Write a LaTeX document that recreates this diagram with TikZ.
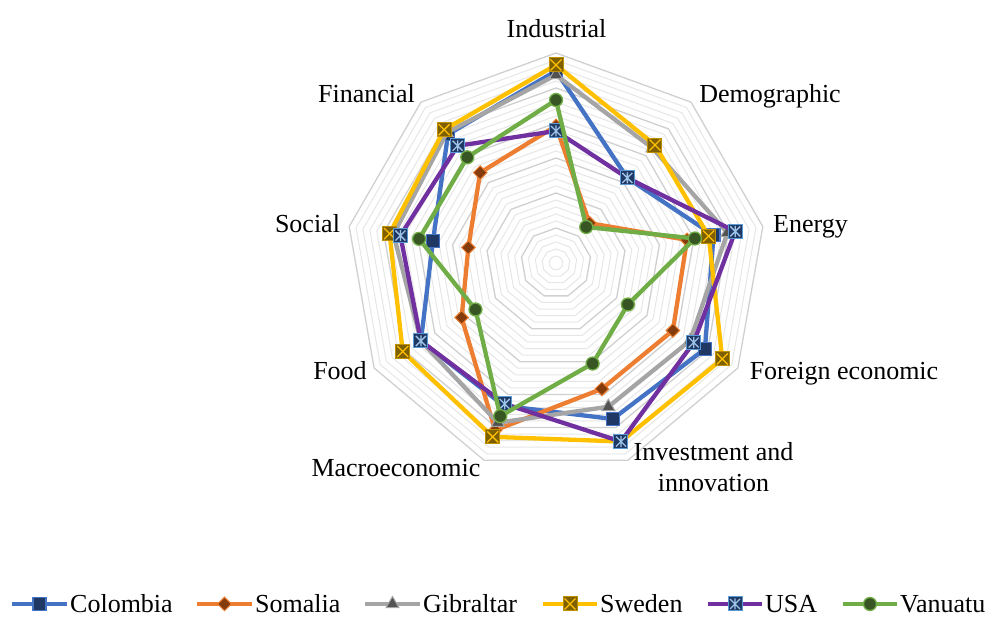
\documentclass[tikz,border=0pt]{standalone}
\usepackage{fontspec}
\setmainfont{Liberation Serif}
\usetikzlibrary{shapes.geometric,calc}
\definecolor{cBlue}{HTML}{4472C4}
\definecolor{cNavy}{HTML}{203864}
\definecolor{cOrange}{HTML}{ED7D31}
\definecolor{cBrown}{HTML}{843C0C}
\definecolor{cGray}{HTML}{A5A5A5}
\definecolor{cDGray}{HTML}{525252}
\definecolor{cGold}{HTML}{FFC000}
\definecolor{cDGold}{HTML}{7F6000}
\definecolor{cPurple}{HTML}{7030A0}
\definecolor{cLBlue}{HTML}{5B9BD5}
\definecolor{cStar}{HTML}{9DC3E6}
\definecolor{cGreen}{HTML}{70AD47}
\definecolor{cDGreen}{HTML}{375623}
\definecolor{gMinor}{HTML}{E6E6E6}
\definecolor{gMajor}{HTML}{D0D0D0}
\tikzset{
  gridminor/.style={draw=gMinor, line width=1pt},
  gridmajor/.style={draw=gMajor, line width=1.3pt},
  serline/.style={line width=4.3pt, line join=round},
  lnCol/.style={serline, draw=cBlue},
  lnSom/.style={serline, draw=cOrange},
  lnGib/.style={serline, draw=cGray},
  lnSwe/.style={serline, draw=cGold},
  lnUSA/.style={serline, draw=cPurple},
  lnVan/.style={serline, draw=cGreen},
  mkCol/.style={rectangle, minimum size=13pt, inner sep=0pt, fill=cNavy, draw=cBlue, line width=1.2pt},
  mkSom/.style={diamond, minimum size=14pt, inner sep=0pt, fill=cBrown, draw=cOrange, line width=1pt},
  mkGib/.style={regular polygon, regular polygon sides=3, minimum size=15pt, inner sep=0pt, fill=cDGray, draw=cGray, line width=1pt},
  mkSwe/.style={rectangle, minimum size=14pt, inner sep=0pt, fill=cDGold, draw=cGold!75!black, line width=1pt,
    path picture={\draw[cGold, line width=1.3pt]
      ([shift={(1.5pt,-1.5pt)}]path picture bounding box.north west) -- ([shift={(-1.5pt,1.5pt)}]path picture bounding box.south east)
      ([shift={(-1.5pt,-1.5pt)}]path picture bounding box.north east) -- ([shift={(1.5pt,1.5pt)}]path picture bounding box.south west);}},
  mkUSA/.style={rectangle, minimum size=14pt, inner sep=0pt, fill=cNavy, draw=cLBlue, line width=1pt,
    path picture={\draw[cStar, line width=1.3pt]
      ([shift={(2pt,-2pt)}]path picture bounding box.north west) -- ([shift={(-2pt,2pt)}]path picture bounding box.south east)
      ([shift={(-2pt,-2pt)}]path picture bounding box.north east) -- ([shift={(2pt,2pt)}]path picture bounding box.south west)
      ([shift={(0pt,-1.5pt)}]path picture bounding box.north) -- ([shift={(0pt,1.5pt)}]path picture bounding box.south);}},
  mkVan/.style={circle, minimum size=13pt, inner sep=0pt, fill=cDGreen, draw=cGreen, line width=1.3pt},
  axlabel/.style={inner sep=0pt, anchor=base, text=black},
  lgtext/.style={inner sep=0pt, anchor=base west, text=black}
}
\newcommand{\drawSeries}[4]{%
  \foreach \v [count=\i] in {#2} {\coordinate (#1-\i) at ({90-40*(\i-1)}:\v);}
  \draw[#3] (#1-1) \foreach \j in {2,...,9} {-- (#1-\j)} -- cycle;
  \foreach \j in {1,...,9} {\node[#4] (#1-m\j) at (#1-\j) {};}
}
\newcommand{\legendItem}[6]{%
  \coordinate (#1-a) at (#2,13);
  \coordinate (#1-b) at (#3,13);
  \draw[#4] (#1-a) -- (#1-b);
  \node[#5] (#1-mk) at ($(#1-a)!0.5!(#1-b)$) {};
  \node[lgtext] (#1-tx) at ([xshift=3pt,yshift=-9pt]#1-b) {#6};
}
\begin{document}
\begin{tikzpicture}[x=1pt, y=1pt, font=\fontsize{26}{30}\selectfont]
\useasboundingbox (0,0) rectangle (993,617);
\coordinate (C) at (556,354);
\begin{scope}[shift={(C)}]
  \foreach \k in {1,...,30} {
    \pgfmathsetmacro\rr{7*\k}
    \ifnum\numexpr\k-5*(\k/5)\relax=0
      \def\gs{gridmajor}
    \else
      \def\gs{gridminor}
    \fi
    \draw[\gs] (90:\rr) \foreach \a in {50,10,...,-230} {-- (\a:\rr)} -- cycle;
  }
  \drawSeries{col}{192,111,160,172,166,152,156,125,168}{lnCol}{mkCol}
  \drawSeries{som}{137,52,133,135,134,178,109,89,118}{lnSom}{mkSom}
  \drawSeries{gib}{188,150,174,155,153,170,156,165,170}{lnGib}{mkGib}
  \drawSeries{swe}{198,154,155,192,190,185,177,169,174}{lnSwe}{mkSwe}
  \drawSeries{usa}{132,111,182,159,190,150,156,158,153}{lnUSA}{mkUSA}
  \drawSeries{van}{163,47,141,83,107,163,93,139,138}{lnVan}{mkVan}
\end{scope}
\node[axlabel] (lInd) at (556.5,579) {Industrial};
\node[axlabel] (lDem) at (770,514) {Demographic};
\node[axlabel] (lEne) at (810.5,384) {Energy};
\node[axlabel] (lFor) at (844,237) {Foreign economic};
\node[axlabel] (lInv) at (713.5,156.3) {Investment and};
\node[axlabel] (lInn) at (713.5,125.3) {innovation};
\node[axlabel] (lMac) at (396,140.3) {Macroeconomic};
\node[axlabel] (lFoo) at (340,237) {Food};
\node[axlabel] (lSoc) at (307.5,384) {Social};
\node[axlabel] (lFin) at (366.5,514) {Financial};
\legendItem{lgCol}{12}{67}{lnCol}{mkCol}{Colombia}
\legendItem{lgSom}{197}{252}{lnSom}{mkSom}{Somalia}
\legendItem{lgGib}{365}{420}{lnGib}{mkGib}{Gibraltar}
\legendItem{lgSwe}{543}{597}{lnSwe}{mkSwe}{Sweden}
\legendItem{lgUSA}{708}{762}{lnUSA}{mkUSA}{USA}
\legendItem{lgVan}{843}{897}{lnVan}{mkVan}{Vanuatu}
\end{tikzpicture}
\end{document}
